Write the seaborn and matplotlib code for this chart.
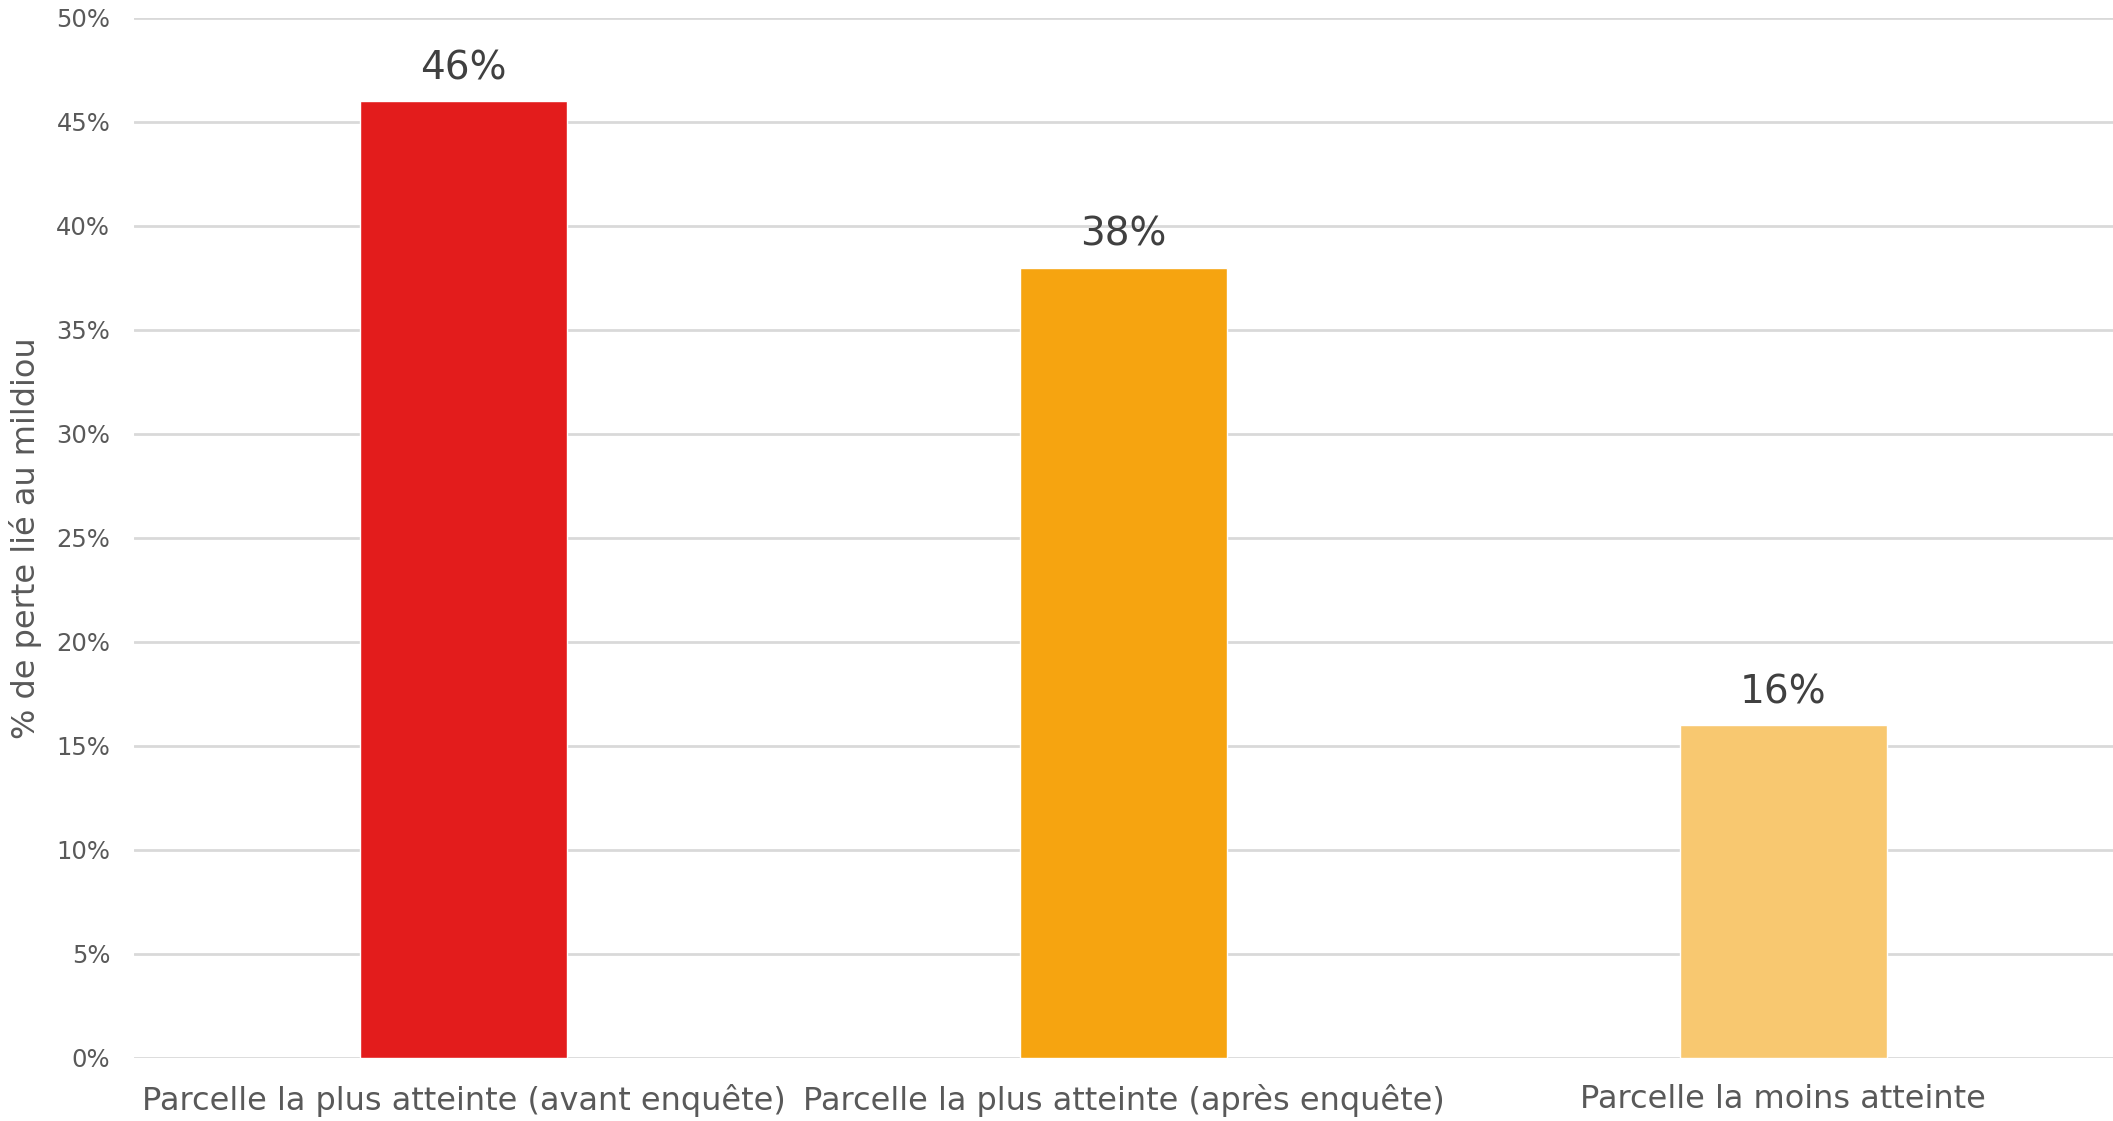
import matplotlib
matplotlib.use("Agg")
import matplotlib.pyplot as plt
import seaborn as sns
import pandas as pd
from matplotlib.ticker import PercentFormatter

categories = [
    "Parcelle la plus atteinte (avant enquête)",
    "Parcelle la plus atteinte (après enquête)",
    "Parcelle la moins atteinte",
]
loss_pct = [46, 38, 16]
bar_colors = ["#E31C1C", "#F6A410", "#F8C870"]

df = pd.DataFrame({"parcelle": categories, "perte": loss_pct})

sns.set_style("white")
plt.rcParams["font.family"] = ["DejaVu Sans"]

fig = plt.figure(figsize=(21.13, 11.21), dpi=100)
ax = fig.add_axes([0.0634, 0.0562, 0.9366, 0.9278])

sns.barplot(data=df, x="parcelle", y="perte", hue="parcelle",
            palette=bar_colors, width=0.314, legend=False, ax=ax,
            saturation=1, zorder=3)

ax.set_ylim(0, 50)
ax.set_xlim(-0.5, 2.5)
ax.set_yticks(range(0, 51, 5))
ax.yaxis.set_major_formatter(PercentFormatter(decimals=0))
ax.grid(axis="y", color="#D9D9D9", linewidth=2, zorder=0)
ax.set_axisbelow(True)
for s in ax.spines.values():
    s.set_visible(False)

ax.tick_params(axis="y", length=0, pad=17, labelsize=17.5, labelcolor="#595959")
ax.tick_params(axis="x", length=0, pad=19, labelsize=23, labelcolor="#595959")
ax.set_xlabel("")
ax.set_ylabel("% de perte lié au mildiou", fontsize=23, color="#595959", labelpad=10)

for i, v in enumerate(loss_pct):
    ax.annotate(f"{v}%", xy=(i, v), xytext=(0, 10), textcoords="offset points",
                ha="center", va="bottom", fontsize=28, color="#404040")

fig.savefig("out.png", dpi=100)
